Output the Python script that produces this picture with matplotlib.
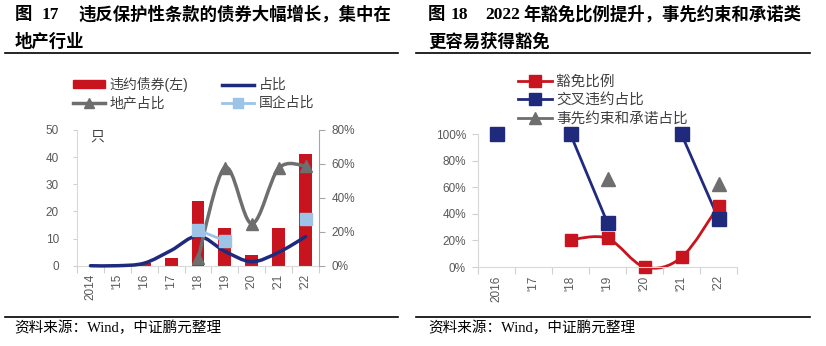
import numpy as np
import matplotlib
matplotlib.use("Agg")
import matplotlib.pyplot as plt
from matplotlib.path import Path
from matplotlib.patches import PathPatch, Patch
from matplotlib.lines import Line2D

plt.rcParams['font.family'] = ['Liberation Sans', 'Noto Sans CJK SC']

nan = np.nan

# figure 17: defaulted bonds breaching protective covenants
years_l = ["2014", "'15", "'16", "'17", "'18", "'19", "'20", "'21", "'22"]
default_bonds = [0, 0, 1, 3, 24, 14, 4, 14, 41]
share_all = [0.0, 0.0, 0.015, 0.09, 0.175, 0.085, 0.024, 0.079, 0.171]
share_property = [nan, nan, nan, nan, 0.043, 0.578, 0.248, 0.574, 0.588]
share_soe = [nan, nan, nan, nan, 0.21, 0.147, nan, nan, 0.273]

# figure 18: waiver ratio
years_r = ["2016", "'17", "'18", "'19", "'20", "'21", "'22"]
waiver = [nan, nan, 0.205, 0.216, 0.0, 0.073, 0.46]
cross_default = [1.0, nan, 1.0, 0.332, nan, 1.0, 0.364]
covenant = [nan, nan, nan, 0.66, nan, nan, 0.628]

W, H = 826, 346
RED = '#C8141E'
NAVY = '#1F2A7C'
GRAY = '#6E6E6E'
LBLUE = '#9DC3E6'
TICK = '#595959'
SERIF_CJK = ['Liberation Serif', 'Noto Sans CJK SC']


def fx(x):
    return x / W


def fy(y):
    return 1 - y / H


def smooth(ax, y, **kw):
    # Excel-like smoothed line through each run of valid points
    y = np.asarray(y, float)
    x = np.arange(len(y), dtype=float)
    ok = ~np.isnan(y)
    i = 0
    while i < len(y):
        if not ok[i]:
            i += 1
            continue
        j = i
        while j + 1 < len(y) and ok[j + 1]:
            j += 1
        if j > i:
            px, py = x[i:j + 1], y[i:j + 1]
            n = len(px)
            verts = [(px[0], py[0])]
            codes = [Path.MOVETO]
            for k in range(n - 1):
                a = max(k - 1, 0)
                b = min(k + 2, n - 1)
                c1 = (px[k] + (px[k + 1] - px[a]) / 6, py[k] + (py[k + 1] - py[a]) / 6)
                c2 = (px[k + 1] - (px[b] - px[k]) / 6, py[k + 1] - (py[b] - py[k]) / 6)
                verts += [c1, c2, (px[k + 1], py[k + 1])]
                codes += [Path.CURVE4] * 3
            ax.add_patch(PathPatch(Path(verts, codes), fill=False,
                                   capstyle='round', joinstyle='round', **kw))
        i = j + 1


def style_cat_axis(ax, labels):
    n = len(labels)
    ax.set_xlim(-0.5, n - 0.5)
    ax.set_xticks(np.arange(n))
    ax.set_xticklabels(labels, rotation=90, va='top', ha='center')
    ax.set_xticks(np.arange(-0.5, n), minor=True)
    ax.tick_params(axis='x', which='major', length=0, pad=6,
                   labelsize=8.5, labelcolor=TICK)
    ax.tick_params(axis='x', which='minor', length=5, color='#D0D0D0', width=0.8)


fig = plt.figure(figsize=(W / 100, H / 100), dpi=100)

# ---------------------------------------------------------------- titles
fig.text(fx(15), fy(15), '图', family=SERIF_CJK, weight='bold', size=12.5, va='center')
fig.text(fx(42), fy(15), '17', family=SERIF_CJK, weight='bold', size=12.5, va='center')
fig.text(fx(78), fy(15), '违反保护性条款的债券大幅增长，集中在', family=SERIF_CJK,
         weight='bold', size=12.5, va='center')
fig.text(fx(15), fy(42), '地产行业', family=SERIF_CJK, weight='bold', size=12.5, va='center')

fig.text(fx(428), fy(15), '图', family=SERIF_CJK, weight='bold', size=12.5, va='center')
fig.text(fx(451), fy(15), '18', family=SERIF_CJK, weight='bold', size=12.5, va='center')
fig.text(fx(485), fy(15), '2022', family=SERIF_CJK, weight='bold', size=12.5, va='center')
fig.text(fx(523), fy(15), '年豁免比例提升，事先约束和承诺类', family=SERIF_CJK,
         weight='bold', size=12.5, va='center')
fig.text(fx(428), fy(42), '更容易获得豁免', family=SERIF_CJK, weight='bold', size=12.5, va='center')

for x0, x1 in [(5, 398), (416, 810)]:
    fig.add_artist(Line2D([fx(x0), fx(x1)], [fy(53), fy(53)], color='black', lw=1.2,
                          transform=fig.transFigure))
    fig.add_artist(Line2D([fx(x0), fx(x1)], [fy(317), fy(317)], color='black', lw=1.2,
                          transform=fig.transFigure))

fig.text(fx(14), fy(328), '资料来源：Wind，中证鹏元整理', family=SERIF_CJK, size=10.5, va='center')
fig.text(fx(428), fy(328), '资料来源：Wind，中证鹏元整理', family=SERIF_CJK, size=10.5, va='center')

# ---------------------------------------------------------------- left chart
ax = fig.add_axes([fx(77), fy(265.7), 242 / W, 135.7 / H])
xl = np.arange(len(years_l))
ax.bar(xl, default_bonds, width=0.48, color=RED, zorder=1)
ax.set_ylim(0, 50)
ax.set_yticks([0, 10, 20, 30, 40, 50])
ax.tick_params(axis='y', length=3, color='#D0D0D0', pad=10, labelsize=8.5, labelcolor=TICK)
style_cat_axis(ax, years_l)
for s in ['top', 'right']:
    ax.spines[s].set_visible(False)
for s in ['left', 'bottom']:
    ax.spines[s].set_color('#D9D9D9')
ax.text(0.083, 0.955, '只', transform=ax.transAxes, ha='center', va='center',
        size=10, color='#404040', family=['Noto Sans CJK SC'])

ax2 = ax.twinx()
ax2.set_ylim(0, 0.8)
ax2.set_yticks([0, 0.2, 0.4, 0.6, 0.8])
ax2.set_yticklabels(['0%', '20%', '40%', '60%', '80%'])
ax2.tick_params(axis='y', length=4, color='#A6A6A6', pad=5, labelsize=8.5, labelcolor=TICK)
for s in ['top', 'left', 'bottom']:
    ax2.spines[s].set_visible(False)
ax2.spines['right'].set_color('#A6A6A6')
smooth(ax2, share_all, color=NAVY, lw=2.5, clip_on=False)
smooth(ax2, share_property, color=GRAY, lw=2.5, clip_on=False)
ax2.plot(xl, share_property, ls='none', marker='^', ms=8, color=GRAY, clip_on=False)
smooth(ax2, share_soe, color=LBLUE, lw=2, clip_on=False)
ax2.plot(xl, share_soe, ls='none', marker='s', ms=8, color=LBLUE, clip_on=False)

handles_l = [Patch(color=RED),
             Line2D([], [], color=GRAY, lw=2.5, marker='^', ms=7),
             Line2D([], [], color=NAVY, lw=2.5),
             Line2D([], [], color=LBLUE, lw=2, marker='s', ms=7)]
labels_l = ['违约债券(左)', '地产占比', '占比', '国企占比']
fig.legend(handles_l, labels_l, ncol=2, loc='upper left', bbox_to_anchor=(fx(73), fy(77)),
           frameon=False, fontsize=10, labelcolor='#404040', handlelength=2.3,
           handleheight=0.5, handletextpad=0.35, columnspacing=2.4, labelspacing=0.3,
           borderpad=0, borderaxespad=0, numpoints=1)

# ---------------------------------------------------------------- right chart
bx = fig.add_axes([fx(478), fy(267), 259 / W, 132.7 / H])
xr = np.arange(len(years_r))
bx.set_ylim(0, 1)
bx.set_yticks([0, 0.2, 0.4, 0.6, 0.8, 1.0])
bx.set_yticklabels(['0%', '20%', '40%', '60%', '80%', '100%'])
bx.tick_params(axis='y', length=4, color='#D0D0D0', pad=4.7, labelsize=8.5, labelcolor=TICK)
style_cat_axis(bx, years_r)
for s in ['top', 'right']:
    bx.spines[s].set_visible(False)
for s in ['left', 'bottom']:
    bx.spines[s].set_color('#D9D9D9')

smooth(bx, waiver, color=RED, lw=2, clip_on=False)
bx.plot(xr, waiver, ls='none', marker='s', ms=9, color=RED, clip_on=False)
smooth(bx, cross_default, color=NAVY, lw=2, clip_on=False)
bx.plot(xr, cross_default, ls='none', marker='s', ms=10, color=NAVY, clip_on=False)
bx.plot(xr, covenant, ls='none', marker='^', ms=10, color=GRAY, clip_on=False)

handles_r = [Line2D([], [], color=RED, lw=2, marker='s', ms=8),
             Line2D([], [], color=NAVY, lw=2, marker='s', ms=8),
             Line2D([], [], color=GRAY, lw=2, marker='^', ms=8)]
labels_r = ['豁免比例', '交叉违约占比', '事先约束和承诺占比']
fig.legend(handles_r, labels_r, loc='upper left', bbox_to_anchor=(fx(518), fy(75)),
           frameon=False, fontsize=10.5, labelcolor='#404040', handlelength=2.3,
           handletextpad=0.3, labelspacing=0.3, borderpad=0, borderaxespad=0, numpoints=1)

fig.savefig('out.png', dpi=100)
